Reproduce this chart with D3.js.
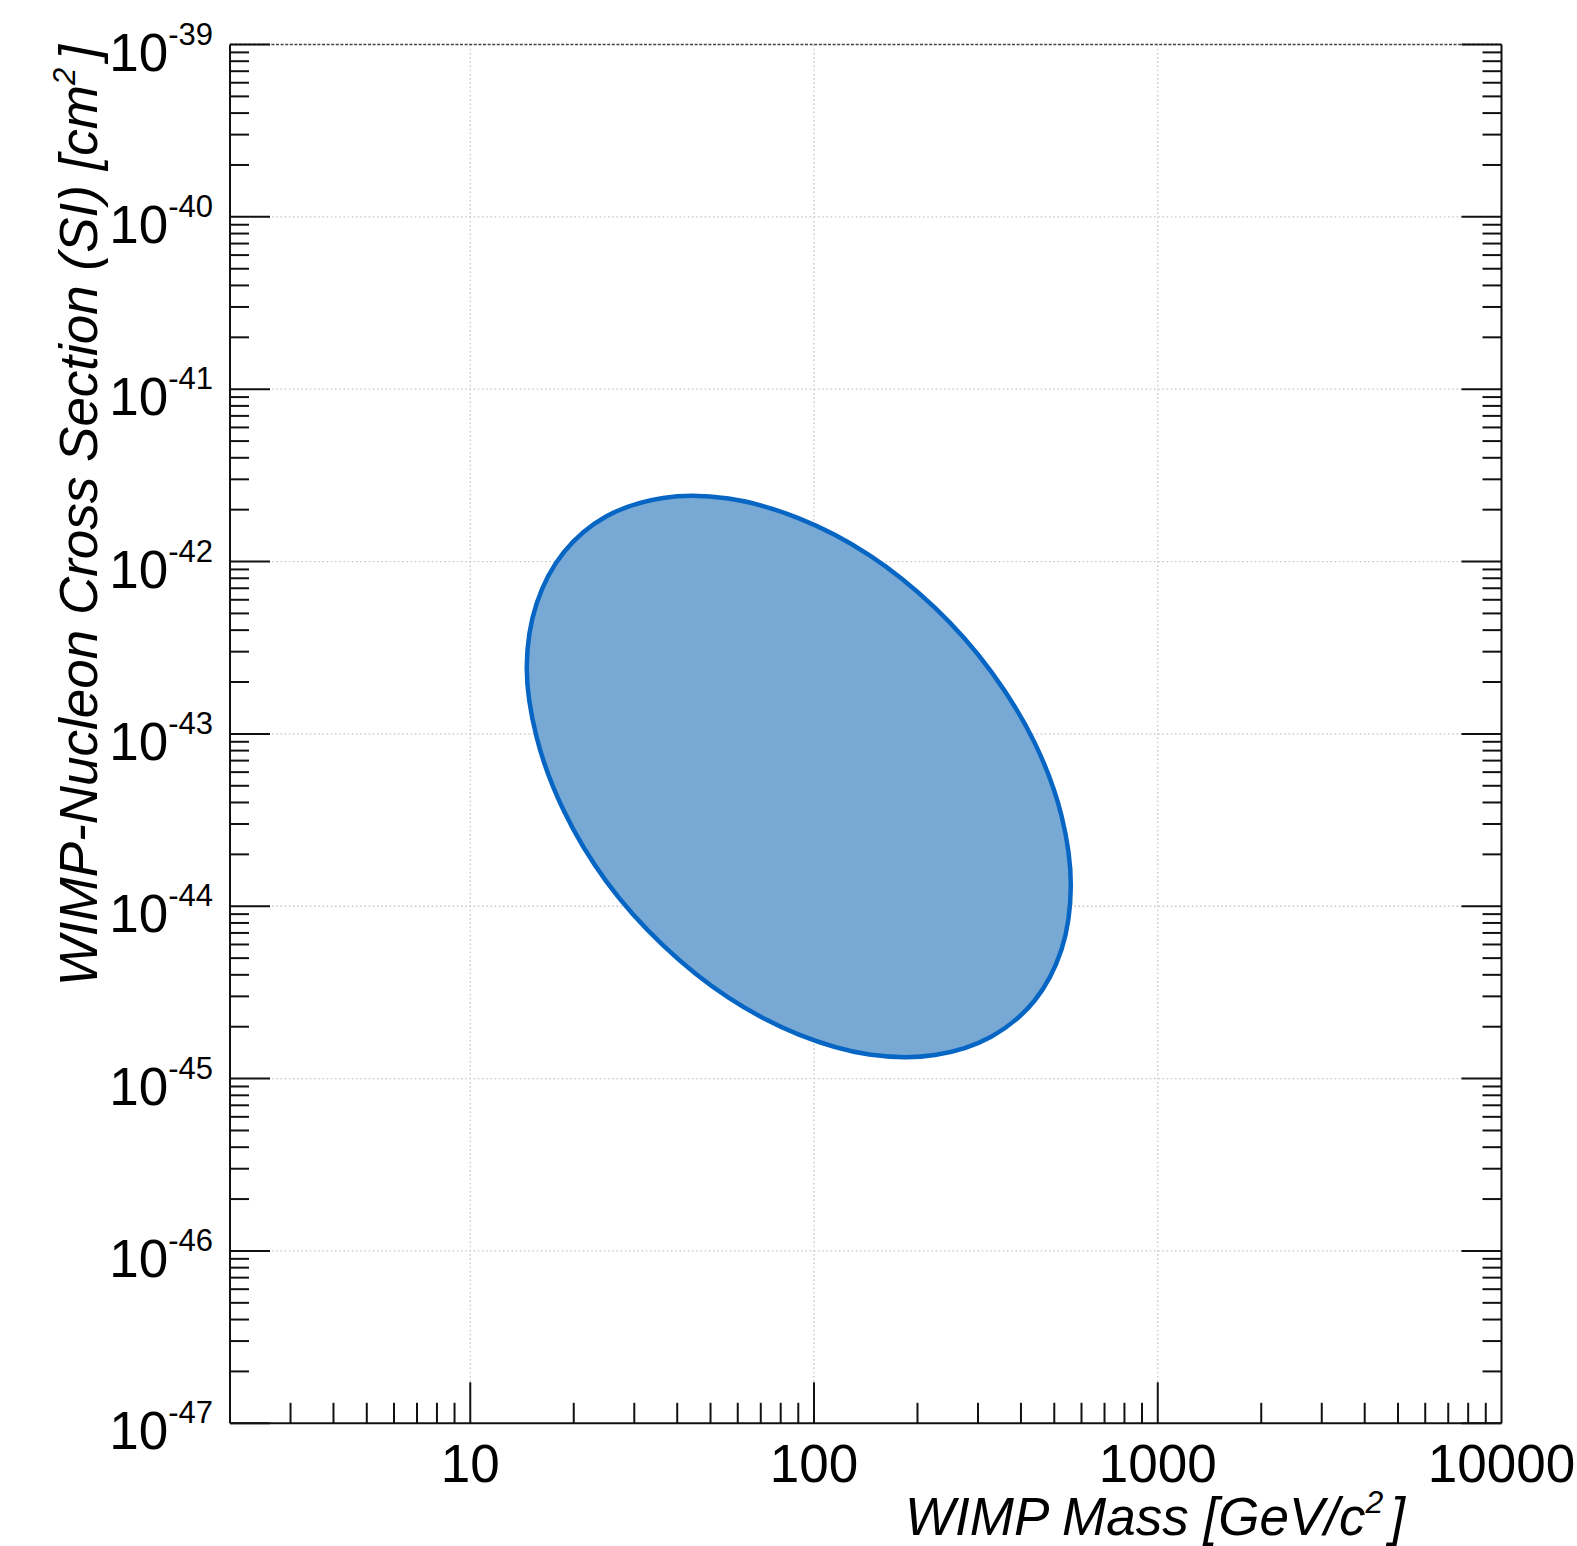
<!DOCTYPE html>
<html>
<head>
<meta charset="utf-8">
<script src="https://cdn.jsdelivr.net/npm/d3@7"></script>
<style>
  html, body { margin: 0; padding: 0; background: #fff; }
  svg { display: block; }
  text { font-family: "Liberation Sans", Arial, Helvetica, sans-serif; fill: #000; }
</style>
</head>
<body>
<svg id="chart" width="1577" height="1546"></svg>
<script>
// ---------------- data ----------------
const xDomain = [2, 10000];            // WIMP mass, GeV/c^2
const yDomain = [1e-47, 1e-39];        // cross-section, cm^2
const xMajorTicks = [10, 100, 1000, 10000];
const xTickLabels = ["10", "100", "1000", "10000"];
const yExponents = [-39, -40, -41, -42, -43, -44, -45, -46, -47];
const yTickLabels = ["-39", "-40", "-41", "-42", "-43", "-44", "-45", "-46", "-47"];

// contour of the allowed region (mass, cross-section)
const contourMass = [558.5, 524.8, 437.8, 327.6, 224.6, 144.8, 90.4, 56.4, 36.4, 24.9, 18.7, 15.6,
                     14.6, 15.6, 18.7, 24.9, 36.4, 56.4, 90.4, 144.8, 224.6, 327.6, 437.8, 524.8];
const contourSigma = [1.305e-44, 5.61e-45, 2.83e-45, 1.75e-45, 1.37e-45, 1.38e-45, 1.80e-45, 2.95e-45,
                      5.93e-45, 1.39e-44, 3.59e-44, 9.56e-44, 2.45e-43, 5.71e-43, 1.13e-42, 1.83e-42,
                      2.34e-42, 2.32e-42, 1.78e-42, 1.09e-42, 5.40e-43, 2.30e-43, 8.93e-44, 3.35e-44];

const xTitle = "WIMP Mass [GeV/c";
const yTitle = "WIMP-Nucleon Cross Section (SI) [cm";

(function () {
// ---------------- layout ----------------
const pL = 230, pR = 1501.5, pT = 44.5, pB = 1423.3;
const svg = d3.select("#chart");

const x = d3.scaleLog().domain(xDomain).range([pL, pR]);
const y = d3.scaleLog().domain(yDomain).range([pB, pT]);

// minor tick values
const xMinor = [];
for (let d = 1; d <= 1000; d *= 10) for (let k = 2; k <= 9; k++) {
  const v = d * k; if (v > xDomain[0] && v < xDomain[1]) xMinor.push(v);
}
const yMinor = [];
for (let e = -47; e < -39; e++) for (let k = 2; k <= 9; k++) yMinor.push(k * Math.pow(10, e));

// ---------------- grid ----------------
const grid = svg.append("g");
grid.selectAll("line.gx").data(xMajorTicks.filter(v => v < 10000)).enter().append("line")
  .attr("x1", d => x(d)).attr("x2", d => x(d)).attr("y1", pT).attr("y2", pB)
  .attr("stroke", "#c8c8c8").attr("stroke-width", 1.3).attr("stroke-dasharray", "1.6,2.6");
grid.selectAll("line.gy").data(yExponents.filter(e => e > -47 && e < -39)).enter().append("line")
  .attr("x1", pL).attr("x2", pR).attr("y1", d => y(Math.pow(10, d))).attr("y2", d => y(Math.pow(10, d)))
  .attr("stroke", "#c8c8c8").attr("stroke-width", 1.3).attr("stroke-dasharray", "1.6,2.6");
// top edge (grid line at 1e-39, darker)
svg.append("line").attr("x1", pL).attr("x2", pR).attr("y1", y(1e-39)).attr("y2", y(1e-39))
  .attr("stroke", "#444").attr("stroke-width", 1.6).attr("stroke-dasharray", "3,1.6");

// ---------------- contour ----------------
const pts = contourMass.map((m, i) => [m, contourSigma[i]]);
const line = d3.line().x(d => x(d[0])).y(d => y(d[1])).curve(d3.curveCatmullRomClosed.alpha(0.5));
svg.append("path").attr("d", line(pts))
  .attr("fill", "#77a9d4").attr("stroke", "#0765c4").attr("stroke-width", 4.5);

// ---------------- axes ----------------
const ax = svg.append("g").attr("stroke", "#111").attr("stroke-width", 2);
ax.append("line").attr("x1", pL).attr("x2", pL).attr("y1", pT).attr("y2", pB);
ax.append("line").attr("x1", pR).attr("x2", pR).attr("y1", pT).attr("y2", pB);
ax.append("line").attr("x1", pL).attr("x2", pR).attr("y1", pB).attr("y2", pB);

// x ticks (bottom, pointing up)
ax.selectAll("line.xmaj").data(xMajorTicks.filter(v => v < 10000)).enter().append("line")
  .attr("x1", d => x(d)).attr("x2", d => x(d)).attr("y1", pB).attr("y2", pB - 41);
ax.selectAll("line.xmin").data(xMinor).enter().append("line")
  .attr("x1", d => x(d)).attr("x2", d => x(d)).attr("y1", pB).attr("y2", pB - 20.5);

// y ticks left & right
const yMajVals = yExponents.map(e => Math.pow(10, e));
[[pL, 1], [pR, -1]].forEach(([x0, dir]) => {
  ax.selectAll(null).data(yMajVals).enter().append("line")
    .attr("x1", x0).attr("x2", x0 + dir * 40).attr("y1", d => y(d)).attr("y2", d => y(d));
  ax.selectAll(null).data(yMinor).enter().append("line")
    .attr("x1", x0).attr("x2", x0 + dir * 19).attr("y1", d => y(d)).attr("y2", d => y(d));
});

// x tick labels
svg.selectAll("text.xl").data(xMajorTicks).enter().append("text")
  .attr("x", d => x(d)).attr("y", 1482).attr("text-anchor", "middle")
  .attr("font-size", 53).text((d, i) => xTickLabels[i]);

// y tick labels 10^n
yExponents.forEach((e, i) => {
  const yy = y(Math.pow(10, e));
  const t = svg.append("text").attr("x", 213).attr("y", yy + 26).attr("text-anchor", "end")
    .attr("font-size", 53);
  t.append("tspan").text("10");
  t.append("tspan").attr("font-size", 31).attr("dy", -26).text(yTickLabels[i]);
});

// axis titles
const xt = svg.append("text").attr("x", 1405).attr("y", 1535).attr("text-anchor", "end")
  .attr("font-size", 53).attr("font-style", "italic");
xt.append("tspan").text(xTitle);
xt.append("tspan").attr("font-size", 32).attr("dy", -22).text("2");
xt.append("tspan").attr("dy", 22).attr("dx", 7).text("]");

const yt = svg.append("text").attr("transform", "translate(97,45) rotate(-90)")
  .attr("x", 0).attr("y", 0).attr("text-anchor", "end")
  .attr("font-size", 53).attr("font-style", "italic");
yt.append("tspan").text(yTitle);
yt.append("tspan").attr("font-size", 31).attr("dy", -22).text("2");
yt.append("tspan").attr("dy", 22).attr("dx", 8).text("]");
})();
</script>
</body>
</html>
